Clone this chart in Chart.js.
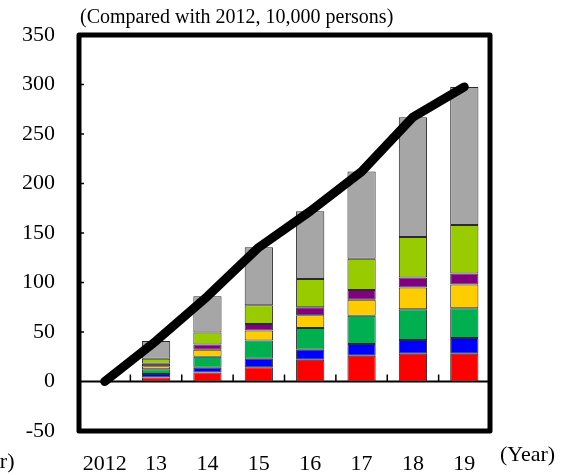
<!DOCTYPE html>
<html>
<head>
<meta charset="utf-8">
<script src="https://cdn.jsdelivr.net/npm/chart.js@4.4.1/dist/chart.umd.min.js"></script>
<style>
  html, body { margin: 0; padding: 0; background: #fff; }
  #wrap { width: 562px; height: 475px; position: relative; }
</style>
</head>
<body>
<div id="wrap"><canvas id="c" width="562" height="475"></canvas></div>
<script>
// Years on the horizontal axis
const years = ['2012', '13', '14', '15', '16', '17', '18', '19'];

// Stacked components (10,000 persons, change from 2012), bottom to top
const seriesRed    = [0, 4, 9, 14.5, 22, 26, 28, 28];
const seriesBlue   = [0, 3.5, 5, 8.5, 10, 12, 14, 16];
const seriesGreen  = [0, 5, 11, 18.5, 22, 28.5, 31, 30];
const seriesYellow = [0, 3, 7, 10, 13, 16, 22, 24];
const seriesPurple = [0, 2.5, 5.5, 6.5, 8, 10, 10, 11];
const seriesLime   = [0, 5, 12, 19, 28.5, 31.5, 41, 49];
const seriesGray   = [0, 18, 36.5, 58.5, 68.5, 88, 121, 139.5];

// Overall change (line)
const totalChange  = [0, 41, 86, 135.5, 172, 212, 267, 297.5];

const yMin = -50, yMax = 350, yStep = 50;

const FONT = '"Liberation Serif", "Times New Roman", serif';

function barSet(label, data, color) {
  return {
    type: 'bar', label, data, backgroundColor: color,
    borderColor: '#2b2b2b', borderWidth: 1, borderSkipped: false,
    stack: 'parts', order: 1,
    categoryPercentage: 1, barPercentage: 0.55
  };
}

const decor = {
  id: 'decor',
  beforeDatasetsDraw(chart) {
    const { ctx, chartArea: a, scales: { x, y } } = chart;
    const y0 = y.getPixelForValue(0);
    ctx.save();
    ctx.strokeStyle = '#000';
    // zero line
    ctx.lineWidth = 2;
    ctx.beginPath();
    ctx.moveTo(a.left, y0);
    ctx.lineTo(a.right, y0);
    ctx.stroke();
    // category boundary ticks on the zero line
    ctx.lineWidth = 1.5;
    for (let i = 0; i < years.length - 1; i++) {
      const xb = (x.getPixelForValue(i) + x.getPixelForValue(i + 1)) / 2;
      ctx.beginPath();
      ctx.moveTo(xb, y0);
      ctx.lineTo(xb, y0 - 7);
      ctx.stroke();
    }
    // inward value ticks on the left frame
    for (let v = yMin + yStep; v < yMax; v += yStep) {
      if (v === 0) continue;
      const yp = y.getPixelForValue(v);
      ctx.beginPath();
      ctx.moveTo(a.left, yp);
      ctx.lineTo(a.left + 5, yp);
      ctx.stroke();
    }
    ctx.restore();
  },
  afterDatasetsDraw(chart) {
    const { ctx, chartArea: a } = chart;
    ctx.save();
    ctx.strokeStyle = '#000';
    ctx.lineWidth = 5;
    ctx.lineJoin = 'round';
    ctx.strokeRect(a.left, a.top, a.right - a.left, a.bottom - a.top);

    ctx.fillStyle = '#000';
    ctx.textBaseline = 'middle';
    ctx.font = '20px ' + FONT;
    ctx.textAlign = 'left';
    ctx.fillText('(Compared with 2012, 10,000 persons)', 80, 18);

    ctx.font = '22px ' + FONT;
    ctx.fillText('(Year)', 500, 455);
    ctx.textAlign = 'right';
    ctx.fillText('(Year)', 14.5, 462);
    ctx.restore();
  }
};

new Chart(document.getElementById('c'), {
  data: {
    labels: years,
    datasets: [
      {
        type: 'line', label: 'Total', data: totalChange,
        borderColor: '#000000', borderWidth: 9,
        borderCapStyle: 'round', borderJoinStyle: 'round',
        pointRadius: 0, tension: 0, fill: false,
        stack: 'total', order: 0
      },
      barSet('Red', seriesRed, '#FF0000'),
      barSet('Blue', seriesBlue, '#0000FF'),
      barSet('Green', seriesGreen, '#00B050'),
      barSet('Yellow', seriesYellow, '#FFCC00'),
      barSet('Purple', seriesPurple, '#800080'),
      barSet('Lime', seriesLime, '#99CC00'),
      barSet('Gray', seriesGray, '#A6A6A6')
    ]
  },
  options: {
    responsive: false,
    animation: false,
    devicePixelRatio: 1,
    layout: { padding: { top: 35, right: 72, bottom: 0, left: 0 } },
    plugins: { legend: { display: false }, tooltip: { enabled: false }, title: { display: false } },
    scales: {
      x: {
        stacked: true,
        grid: { display: false },
        border: { display: false },
        ticks: { color: '#000', font: { family: FONT, size: 22 }, padding: 12, maxRotation: 0, autoSkip: false },
        afterFit(scale) { scale.height = 44; }
      },
      y: {
        stacked: true,
        min: yMin, max: yMax,
        grid: { display: false },
        border: { display: false },
        ticks: { stepSize: yStep, color: '#000', font: { family: FONT, size: 22 }, padding: 16 },
        afterFit(scale) { scale.width = 79; }
      }
    }
  },
  plugins: [decor]
});
</script>
</body>
</html>
